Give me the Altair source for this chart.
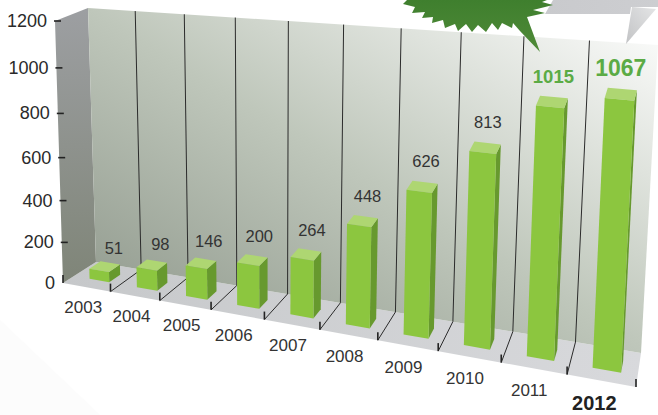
import altair as alt

# Chart values
years = ["2003", "2004", "2005", "2006", "2007", "2008", "2009", "2010", "2011", "2012"]
counts = [51, 98, 146, 200, 264, 448, 626, 813, 1015, 1067]
axis_ticks = [0, 200, 400, 600, 800, 1000, 1200]

# Eight corners of the box the bars stand in: (along, depth, height)
CORNERS = {
    (0, 0, 0): (63, 283), (1, 0, 0): (636, 387),
    (0, 1, 0): (96, 262), (1, 1, 0): (641, 353),
    (0, 0, 1): (55, 21), (1, 0, 1): (651, 75),
    (0, 1, 1): (88, 8), (1, 1, 1): (658, 45),
}
MAX_VALUE = 1200
N = len(years)


def persp(w, k):
    return w / (w + k * (1 - w))


def project(u, d, value):
    """Map slot position u, floor depth d and a chart value to page pixels."""
    t = persp(u / N, 1.23)
    h = persp(value / MAX_VALUE, 1.09)
    x = y = 0.0
    for (a, b, c), (px, py) in CORNERS.items():
        weight = (t if a else 1 - t) * (d if b else 1 - d) * (h if c else 1 - h)
        x += weight * px
        y += weight * py
    return x, y


def polygon(points):
    ring = [list(p) for p in points]
    ring.append(ring[0])
    return {"type": "Feature", "properties": {}, "geometry": {"type": "Polygon", "coordinates": [ring]}}


def polyline(points):
    return {"type": "Feature", "properties": {}, "geometry": {"type": "LineString", "coordinates": [list(p) for p in points]}}


def shapes(features, **mark):
    return alt.Chart(alt.Data(values=features)).mark_geoshape(**mark).project(
        type="identity", scale=1, translate=[0, 0]
    )


def gradient(stops, x1=0, y1=1, x2=1, y2=0):
    return alt.Gradient(
        gradient="linear", x1=x1, y1=y1, x2=x2, y2=y2,
        stops=[alt.GradientStop(offset=o, color=c) for o, c in stops],
    )


def texts(rows, **mark):
    return alt.Chart(alt.Data(values=rows)).mark_text(**mark).encode(
        x=alt.X("x:Q", scale=None, axis=None),
        y=alt.Y("y:Q", scale=None, axis=None),
        text="label:N",
    )


FONT = "Liberation Sans"
DARK = "#333333"
GREEN_TEXT = "#5bab45"

layers = []

# Faint wash in the lower-left corner of the page
layers.append(shapes(
    [polygon([(0, 320), (100, 415), (0, 415)])],
    fill="#fcfcfc", strokeWidth=0))

# Room: floor, side wall, back wall
layers.append(shapes(
    [polygon([project(0, 0, 0), project(N, 0, 0), project(N, 1, 0), project(0, 1, 0)])],
    fill=gradient([(0, "#c6c8ca"), (1, "#d8d9dc")], 0, 0, 1, 0), strokeWidth=0))
layers.append(shapes(
    [polygon([project(0, 0, 0), project(0, 1, 0), project(0, 1, 1200), project(0, 0, 1200)])],
    fill=gradient([(0, "#9d9fa2"), (1, "#7f8578")], 0, 0, 0, 1), strokeWidth=0))
layers.append(shapes(
    [polygon([project(0, 1, 0), project(N, 1, 0), project(N, 1, 1200), project(0, 1, 1200)])],
    fill=gradient([(0, "#8a9387"), (0.5, "#bfc7bb"), (1, "#ffffff")]), strokeWidth=0))

# Slot dividers: up the back wall and across the floor
dividers = []
for i in range(1, N):
    dividers.append(polyline([project(i, 0, 0), project(i, 1, 0), project(i, 1, 1200)]))
layers.append(shapes(dividers, filled=False, stroke="#2b2b2b", strokeWidth=1))

# Ticks along the front edge of the floor
front_ticks = []
for i in range(0, N + 1):
    x, y = project(i, 0, 0)
    front_ticks.append(polyline([(x, y), (x, y - 8)]))
layers.append(shapes(front_ticks, filled=False, stroke="#222222", strokeWidth=1.6))

# Ticks up the side wall
side_ticks = []
for v in axis_ticks[1:]:
    x, y = project(0, 0, v)
    side_ticks.append(polyline([(x - 1, y), (x + 6, y)]))
layers.append(shapes(side_ticks, filled=False, stroke="#222222", strokeWidth=1.6))

# Bars
U0, U1 = 0.34, 0.76
D0, D1 = 0.33, 0.68
fronts, sides, tops = [], [], []
for i, v in enumerate(counts):
    a, b = i + U0, i + U1
    fronts.append(polygon([project(a, D0, 0), project(b, D0, 0), project(b, D0, v), project(a, D0, v)]))
    sides.append(polygon([project(b, D0, 0), project(b, D1, 0), project(b, D1, v), project(b, D0, v)]))
    tops.append(polygon([project(a, D0, v), project(b, D0, v), project(b, D1, v), project(a, D1, v)]))
layers.append(shapes(sides, fill="#67992e", strokeWidth=0))
layers.append(shapes(tops, fill="#aed672", strokeWidth=0))
layers.append(shapes(fronts, fill="#8cc63f", strokeWidth=0))

# Decoration above the back wall: folded banner and starburst callout
layers.append(shapes(
    [polygon([(545, 14), (630, 14), (631, 7), (658, 7), (658, 0), (553, 0)])],
    fill=gradient([(0, "#c9cacd"), (1, "#cdced1")], 0, 0, 1, 0), strokeWidth=0))
layers.append(shapes(
    [polygon([(632, 7), (656, 9), (626, 44)])],
    fill=gradient([(0, "#e4e5e6"), (1, "#c2c3c5")], 1, 0, 0, 1), strokeWidth=0))
layers.append(shapes(
    [polygon([(407, 0), (403, 4), (415, 7), (412, 13), (425, 12), (422, 18), (433, 17),
              (432, 23), (443, 20), (445, 28), (455, 24), (458, 31), (466, 24), (472, 32),
              (478, 25), (486, 32), (492, 23), (498, 30), (502, 23), (512, 28), (513, 23),
              (520, 31), (540, 52), (527, 17), (545, 13), (533, 10), (553, 5), (542, 2), (547, 0)])],
    fill=gradient([(0, "#3f7f2e"), (1, "#4f8a37")], 0, 0, 0, 1), strokeWidth=0))

# Text
value_rows, accent_small, accent_big, year_rows, year_bold = [], [], [], [], []
for i, (year, v) in enumerate(zip(years, counts)):
    tx, ty = project(i + 0.75 - 0.2 * i / (N - 1), 0.5, v)
    row = {"x": tx, "y": ty - 18 - min(7, v / 30), "label": str(v)}
    if i < N - 2:
        value_rows.append(row)
    elif i == N - 2:
        accent_small.append(row)
    else:
        accent_big.append(row)
    yx, yy = project(i + 0.43, 0, 0)
    if i == N - 1:
        year_bold.append({"x": yx - 2, "y": yy + 24, "label": year})
    else:
        year_rows.append({"x": yx, "y": yy + 21 + 0.3 * i, "label": year})

axis_rows = []
for v in axis_ticks:
    x, y = project(0, 0, v)
    axis_rows.append({"x": x - 8, "y": y + 1, "label": str(v)})

layers.append(texts(axis_rows, font=FONT, fontSize=18, color="#2a2a2a", align="right", baseline="middle"))
layers.append(texts(value_rows, font=FONT, fontSize=16.5, color=DARK, align="center", baseline="middle"))
layers.append(texts(year_rows, font=FONT, fontSize=17, color=DARK, align="center", baseline="middle"))
layers.append(texts(year_bold, font=FONT, fontSize=20, fontWeight="bold", color="#222222", align="center", baseline="middle"))
layers.append(texts(accent_small, font=FONT, fontSize=18.5, fontWeight="bold", color=GREEN_TEXT, align="center", baseline="middle"))
layers.append(texts(accent_big, font=FONT, fontSize=23, fontWeight="bold", color=GREEN_TEXT, align="center", baseline="middle"))

chart = alt.layer(*layers).properties(
    width=658, height=415,
    padding=0,
    autosize=alt.AutoSizeParams(type="none"),
    background="#ffffff",
).configure_view(strokeWidth=0)

chart.save("out.html", embed_options={"renderer": "svg", "actions": False})
